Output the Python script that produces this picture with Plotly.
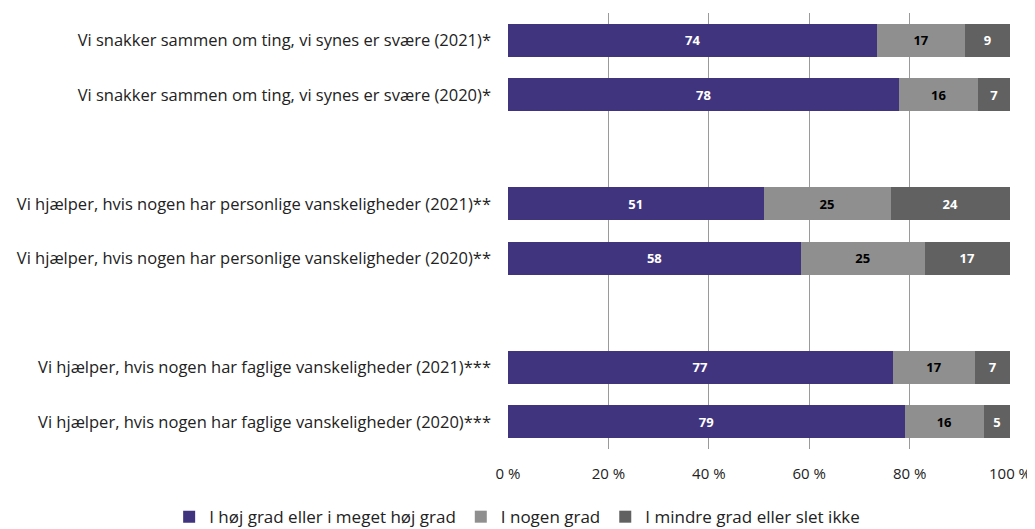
import plotly.graph_objects as go

categories = [
    "Vi snakker sammen om ting, vi synes er svære (2021)*",
    "Vi snakker sammen om ting, vi synes er svære (2020)*",
    " ",
    "Vi hjælper, hvis nogen har personlige vanskeligheder (2021)**",
    "Vi hjælper, hvis nogen har personlige vanskeligheder (2020)**",
    "  ",
    "Vi hjælper, hvis nogen har faglige vanskeligheder (2021)***",
    "Vi hjælper, hvis nogen har faglige vanskeligheder (2020)***",
]
bar_categories = [c for c in categories if c.strip()]

high = [73.6, 77.9, 50.9, 58.3, 76.6, 79.0]
some = [17.4, 15.8, 25.3, 24.7, 16.5, 15.85]
low = [9.0, 6.3, 23.8, 17.0, 6.9, 5.15]

high_labels = ["74", "78", "51", "58", "77", "79"]
some_labels = ["17", "16", "25", "25", "17", "16"]
low_labels = ["9", "7", "24", "17", "7", "5"]

series = [
    ("I høj grad eller i meget høj grad", high, high_labels, "#41347f", "white"),
    ("I nogen grad", some, some_labels, "#8f8f8f", "black"),
    ("I mindre grad eller slet ikke", low, low_labels, "#616161", "white"),
]

x_ticks = [0, 20, 40, 60, 80, 100]
x_tick_labels = ["0 %", "20 %", "40 %", "60 %", "80 %", "100 %"]

FONT = "Open Sans"

fig = go.Figure()
for name, vals, labels, color, tcolor in series:
    fig.add_trace(go.Bar(
        y=bar_categories, x=vals, name=name, orientation="h",
        marker=dict(color=color, line=dict(width=0)),
        text=labels, textposition="inside", insidetextanchor="middle",
        textangle=0, constraintext="none",
        textfont=dict(family=FONT, size=13, color=tcolor, weight="bold"),
        hoverinfo="skip",
    ))

fig.update_layout(
    barmode="stack",
    bargap=0.39,
    width=1027, height=521,
    margin=dict(l=500, r=25, t=5, b=80, autoexpand=False),
    plot_bgcolor="white", paper_bgcolor="white",
    font=dict(family=FONT, size=16, color="#222"),
    legend=dict(
        orientation="h", xref="paper", x=-0.675, xanchor="left",
        yref="paper", y=-0.115, yanchor="top",
        font=dict(family=FONT, size=17, color="#222"),
        itemsizing="constant", traceorder="normal",
    ),
    xaxis=dict(
        range=[0, 100], tickvals=x_ticks, ticktext=x_tick_labels,
        showgrid=True, gridcolor="#9a9a9a", gridwidth=1,
        zeroline=False, showline=False, ticks="", automargin=False,
        tickfont=dict(family=FONT, size=15, color="#222"),
        ticklabelstandoff=14,
    ),
    yaxis=dict(
        type="category", categoryorder="array", categoryarray=categories,
        autorange="reversed", showgrid=False, zeroline=False, ticks="",
        automargin=False,
        tickfont=dict(family=FONT, size=16.5, color="#222"),
        ticklabelstandoff=16,
    ),
)

fig.write_html("out.html")
